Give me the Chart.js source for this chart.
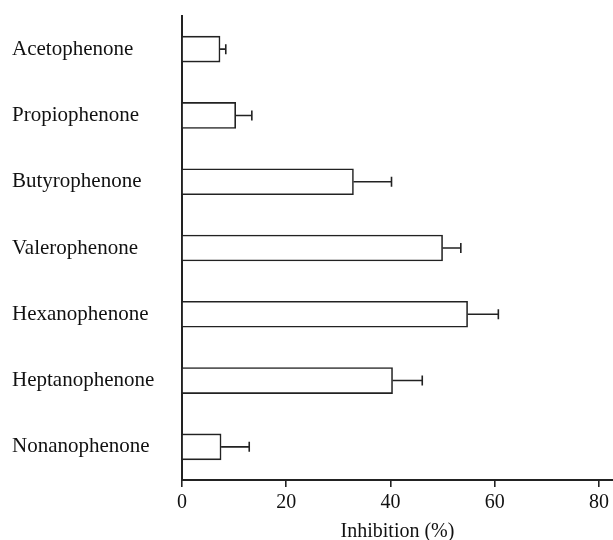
<!DOCTYPE html>
<html>
	<head>
		<title>Inhibition by alkyl phenones</title>
		<script src="https://cdn.jsdelivr.net/npm/chart.js@4.4.1/dist/chart.umd.min.js"></script>
		<style>
			body {
				margin: 0;
				background: #fff;
			}
			.chart-container {
				width: 613px;
				height: 540px;
			}
		</style>
	</head>
	<body>
		<div class="chart-container">
			<canvas id="barChart"></canvas>
		</div>
		<script>
			// Compounds, top to bottom
			const compounds = [
				"Acetophenone",
				"Propiophenone",
				"Butyrophenone",
				"Valerophenone",
				"Hexanophenone",
				"Heptanophenone",
				"Nonanophenone",
			];
			// Mean inhibition (%)
			const inhibition = [7.3, 10.3, 32.9, 50.0, 54.8, 40.4, 7.5];
			// Error (one-sided, drawn to the right)
			const errors = [1.1, 3.1, 7.3, 3.5, 5.9, 5.7, 5.4];
			const xTicks = [0, 20, 40, 60, 80];

			const serif = "'Liberation Serif', 'Times New Roman', serif";

			// draws the error whiskers from the bar end to value + error
			const errorBars = {
				id: "errorBars",
				afterDatasetsDraw(chart) {
					const ctx = chart.ctx;
					const xScale = chart.scales.x;
					const meta = chart.getDatasetMeta(0);
					ctx.save();
					ctx.strokeStyle = "#222";
					ctx.lineWidth = 1.6;
					meta.data.forEach((bar, i) => {
						const x0 = xScale.getPixelForValue(inhibition[i]);
						const x1 = xScale.getPixelForValue(inhibition[i] + errors[i]);
						ctx.beginPath();
						ctx.moveTo(x0, bar.y);
						ctx.lineTo(x1, bar.y);
						ctx.moveTo(x1, bar.y - 5);
						ctx.lineTo(x1, bar.y + 5);
						ctx.stroke();
					});
					ctx.restore();
				},
			};

			const config = {
				type: "bar",
				data: {
					labels: compounds,
					datasets: [
						{
							data: inhibition,
							backgroundColor: "#fff",
							borderColor: "#222",
							borderWidth: 1.6,
							barThickness: 26,
						},
					],
				},
				options: {
					indexAxis: "y",
					responsive: true,
					maintainAspectRatio: false,
					animation: false,
					layout: {
						padding: { left: 12, top: 16, right: 0, bottom: 0 },
					},
					plugins: {
						legend: { display: false },
						tooltip: { enabled: false },
					},
					scales: {
						x: {
							min: 0,
							max: 82.7,
							afterBuildTicks: (scale) => {
								scale.ticks = xTicks.map((v) => ({ value: v }));
							},
							afterFit: (scale) => {
								scale.height = 60;
							},
							ticks: {
								color: "#111",
								font: { family: serif, size: 20 },
								padding: 4,
							},
							grid: {
								drawOnChartArea: false,
								drawTicks: true,
								tickLength: 7,
								color: "#222",
								lineWidth: 1.6,
							},
							border: { color: "#222", width: 2 },
							title: {
								display: true,
								text: "Inhibition (%)",
								color: "#111",
								font: { family: serif, size: 20 },
								padding: { top: 0, bottom: -4 },
							},
						},
						y: {
							ticks: {
								color: "#111",
								crossAlign: "far",
								font: { family: serif, size: 21 },
							},
							grid: { display: false },
							border: { color: "#222", width: 2 },
							afterFit: (scale) => {
								scale.width = 170;
							},
						},
					},
				},
				plugins: [errorBars],
			};

			new Chart(document.getElementById("barChart"), config);
		</script>
	</body>
</html>
